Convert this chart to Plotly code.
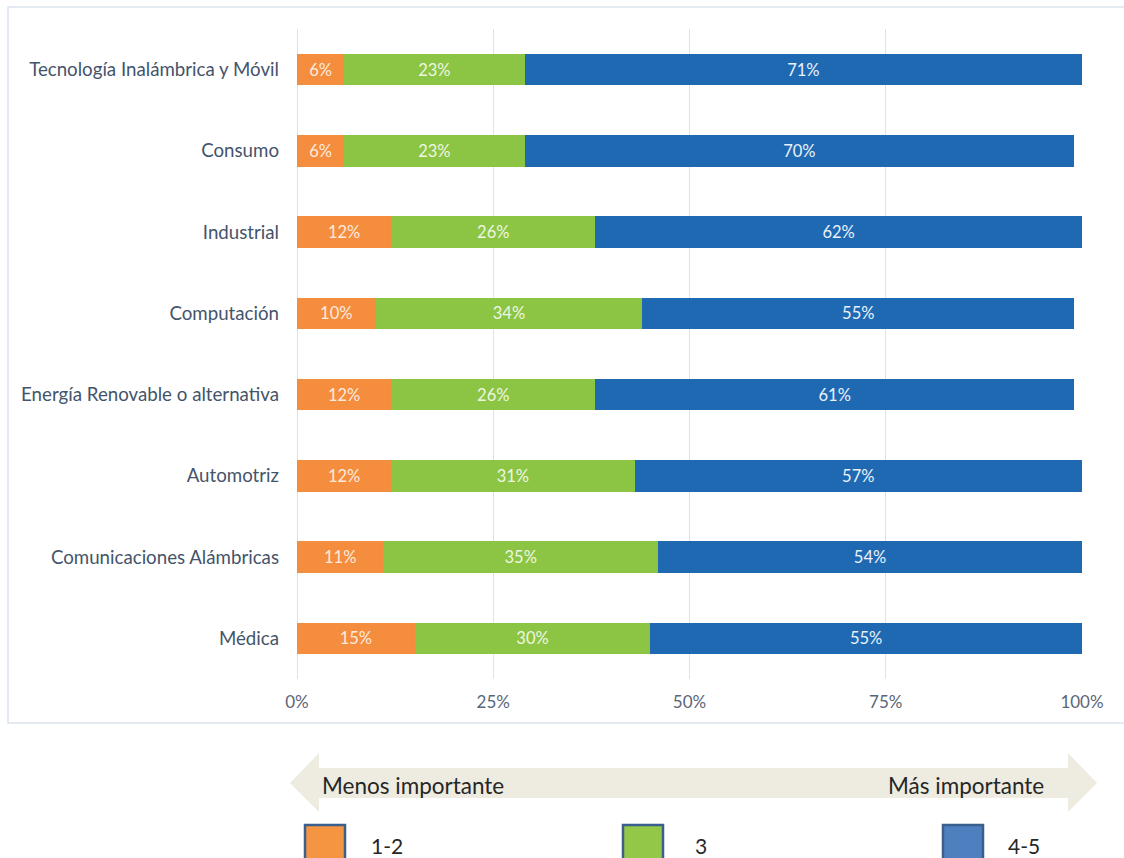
import plotly.graph_objects as go

# Survey categories, top to bottom
categories = [
    "Tecnología Inalámbrica y Móvil",
    "Consumo",
    "Industrial",
    "Computación",
    "Energía Renovable o alternativa",
    "Automotriz",
    "Comunicaciones Alámbricas",
    "Médica",
]

# Share of responses per importance rating (%)
low_1_2 = [6, 6, 12, 10, 12, 12, 11, 15]
mid_3 = [23, 23, 26, 34, 26, 31, 35, 30]
high_4_5 = [71, 70, 62, 55, 61, 57, 54, 55]

series_names = ["1-2", "3", "4-5"]
tick_values = [0, 25, 50, 75, 100]
arrow_left_text = "Menos importante"
arrow_right_text = "Más importante"

W, H = 1124, 858
PLOT_L, PLOT_R = 297, 1082
PLOT_T, PLOT_B = 29, 679

BAR_COLORS = ["#F58D3F", "#8CC443", "#1F69B3"]
LEGEND_COLORS = ["#F59541", "#93C747", "#4E80BF"]
FONT = "Lato"


def px(x):
    return (x - PLOT_L) / (PLOT_R - PLOT_L)


def py(y):
    return (PLOT_B - y) / (PLOT_B - PLOT_T)


fig = go.Figure()
label_colors = ["#FCEBDD", "#EEF7E2", "#EAF1FA"]
for name, vals, col, tcol in zip(series_names, [low_1_2, mid_3, high_4_5], BAR_COLORS, label_colors):
    fig.add_trace(go.Bar(
        y=categories,
        x=vals,
        name=name,
        orientation="h",
        marker=dict(color=col, line=dict(width=0)),
        width=0.39,
        text=[f"{v}%" for v in vals],
        textposition="inside",
        insidetextanchor="middle",
        textangle=0,
        constraintext="none",
        textfont=dict(family=FONT, size=16.5, color=tcol),
        showlegend=False,
        hoverinfo="skip",
    ))

shapes = []
# Outer chart frame
shapes.append(dict(type="rect", xref="paper", yref="paper",
                   x0=px(8), x1=px(1140), y0=py(7), y1=py(723),
                   line=dict(color="#DCE4EE", width=1.5), fillcolor="rgba(0,0,0,0)",
                   layer="below"))

# Double-headed arrow behind the importance labels
ax0, ax1 = 290, 1097
head = 29
sy0, sy1 = 768, 798
hy0, hy1 = 753, 812
mid = (sy0 + sy1) / 2
pts = [
    (ax0, mid), (ax0 + head, hy0), (ax0 + head, sy0), (ax1 - head, sy0),
    (ax1 - head, hy0), (ax1, mid), (ax1 - head, hy1), (ax1 - head, sy1),
    (ax0 + head, sy1), (ax0 + head, hy1),
]
path = "M " + " L ".join(f"{px(x):.5f},{py(y):.5f}" for x, y in pts) + " Z"
shapes.append(dict(type="path", xref="paper", yref="paper", path=path,
                   fillcolor="#EEECE1", line=dict(width=0)))

# Legend swatches
legend_x = [305, 623, 943]
legend_text_x = [369, 693, 1006]
for lx, c in zip(legend_x, LEGEND_COLORS):
    shapes.append(dict(type="rect", xref="paper", yref="paper",
                       x0=px(lx), x1=px(lx + 40), y0=py(825), y1=py(866),
                       fillcolor=c, line=dict(color="#3A5F8C", width=2.5)))

annotations = [
    dict(xref="paper", yref="paper", x=px(320), y=py(785), text=arrow_left_text,
         showarrow=False, xanchor="left", yanchor="middle",
         font=dict(family=FONT, size=22.5, color="#262626")),
    dict(xref="paper", yref="paper", x=px(1046), y=py(785), text=arrow_right_text,
         showarrow=False, xanchor="right", yanchor="middle",
         font=dict(family=FONT, size=22.5, color="#262626")),
]
for tx, name in zip(legend_text_x, series_names):
    annotations.append(dict(xref="paper", yref="paper", x=px(tx), y=py(845), text=name,
                            showarrow=False, xanchor="left", yanchor="middle",
                            font=dict(family=FONT, size=21, color="#262626")))

fig.update_layout(
    width=W, height=H,
    margin=dict(l=PLOT_L, r=W - PLOT_R, t=PLOT_T, b=H - PLOT_B, pad=0),
    barmode="stack",
    paper_bgcolor="white",
    plot_bgcolor="white",
    shapes=shapes,
    annotations=annotations,
    xaxis=dict(
        range=[0, 100],
        tickvals=tick_values,
        ticktext=[f"{v}%" for v in tick_values],
        showgrid=True, gridcolor="#DDE3EC", gridwidth=1,
        zeroline=True, zerolinecolor="#DDE3EC", zerolinewidth=1,
        showline=False, ticks="",
        ticklabelstandoff=11,
        tickfont=dict(family=FONT, size=17, color="#5A6678"),
        fixedrange=True,
    ),
    yaxis=dict(
        categoryorder="array", categoryarray=categories,
        autorange="reversed",
        showgrid=False, showline=False, ticks="",
        ticklabelstandoff=17,
        tickfont=dict(family=FONT, size=18.7, color="#44546A"),
        fixedrange=True,
    ),
    showlegend=False,
)

fig.write_html("out.html")
